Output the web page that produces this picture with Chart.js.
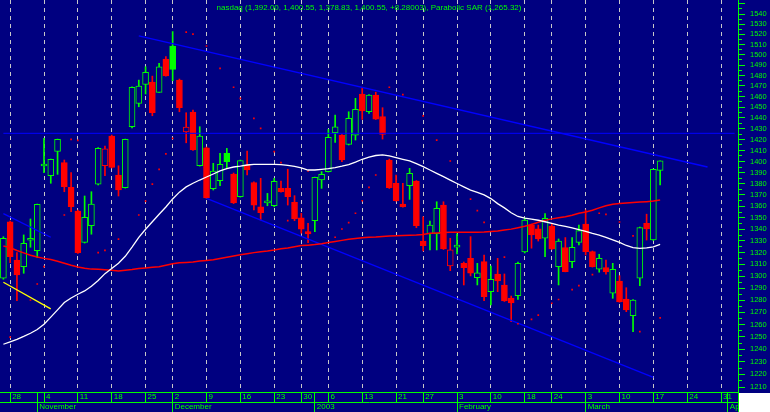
<!DOCTYPE html>
<html>
<head>
<meta charset="utf-8">
<script src="https://cdn.jsdelivr.net/npm/chart.js@4.4.1/dist/chart.umd.min.js"></script>
<style>
html,body{margin:0;padding:0;background:#000080;overflow:hidden}
#wrap{position:relative;width:770px;height:412px}
canvas{display:block}
#hdr{position:absolute;left:0;top:2px;width:738px;text-align:center;color:#00ff00;
 font-family:'Liberation Sans',Arimo,sans-serif;font-size:8px;line-height:12px;white-space:nowrap;pointer-events:none}
</style>
</head>
<body>
<div id="wrap"><canvas id="c" width="770" height="412"></canvas><div id="hdr"></div></div>
<script>
// ---------- categories (trading days) ----------
const dates = [
 '2002-10-25',
 '2002-10-28','2002-10-29','2002-10-30','2002-10-31','2002-11-01',
 '2002-11-04','2002-11-05','2002-11-06','2002-11-07','2002-11-08',
 '2002-11-11','2002-11-12','2002-11-13','2002-11-14','2002-11-15',
 '2002-11-18','2002-11-19','2002-11-20','2002-11-21','2002-11-22',
 '2002-11-25','2002-11-26','2002-11-27','2002-11-29',
 '2002-12-02','2002-12-03','2002-12-04','2002-12-05','2002-12-06',
 '2002-12-09','2002-12-10','2002-12-11','2002-12-12','2002-12-13',
 '2002-12-16','2002-12-17','2002-12-18','2002-12-19','2002-12-20',
 '2002-12-23','2002-12-24','2002-12-26','2002-12-27',
 '2002-12-30','2002-12-31','2003-01-02','2003-01-03',
 '2003-01-06','2003-01-07','2003-01-08','2003-01-09','2003-01-10',
 '2003-01-13','2003-01-14','2003-01-15','2003-01-16','2003-01-17',
 '2003-01-21','2003-01-22','2003-01-23','2003-01-24',
 '2003-01-27','2003-01-28','2003-01-29','2003-01-30','2003-01-31',
 '2003-02-03','2003-02-04','2003-02-05','2003-02-06','2003-02-07',
 '2003-02-10','2003-02-11','2003-02-12','2003-02-13','2003-02-14',
 '2003-02-18','2003-02-19','2003-02-20','2003-02-21',
 '2003-02-24','2003-02-25','2003-02-26','2003-02-27','2003-02-28',
 '2003-03-03','2003-03-04','2003-03-05','2003-03-06','2003-03-07',
 '2003-03-10','2003-03-11','2003-03-12','2003-03-13','2003-03-14',
 '2003-03-17','2003-03-18','2003-03-19','2003-03-20','2003-03-21',
 '2003-03-24','2003-03-25','2003-03-26','2003-03-27','2003-03-28',
 '2003-03-31','2003-04-01','2003-04-02'
];

// ---------- price series ----------
const openVals = [
 1298.2,1346.5,1313.6,1307.9,1330.5,1321.6,1395.9,1387.2,1409.2,1398.9,
 1376.8,1355.9,1328.7,1343.0,1379.5,1396.1,1423.2,1387.8,1376.5,1431.8,
 1453.6,1471.5,1473.7,1464.0,1495.9,1508.5,1475.6,1427.1,1445.4,1396.1,
 1412.5,1375.7,1382.7,1407.4,1388.7,1368.4,1396.8,1381.1,1359.6,1363.1,
 1360.5,1375.9,1375.9,1363.5,1350.0,1337.9,1347.4,1383.3,1390.8,1426.2,
 1424.1,1415.6,1424.1,1462.4,1445.7,1461.4,1441.1,1401.3,1380.4,1362.0,
 1378.2,1382.4,1329.8,1336.2,1336.2,1361.1,1308.7,1324.6,1310.8,1315.0,
 1298.7,1312.2,1287.0,1301.8,1292.6,1281.7,1283.6,1320.5,1343.6,1340.3,
 1332.2,1342.8,1307.9,1324.2,1312.2,1328.7,1344.5,1320.7,1305.8,1307.1,
 1285.7,1295.9,1280.9,1267.2,1298.2,1345.1,1330.7,1392.00
];
const highVals = [
 1333.5,1347.1,1319.9,1335.1,1348.9,1362.0,1421.1,1402.2,1420.4,1401.3,
 1389.9,1356.8,1369.1,1372.9,1412.6,1413.9,1424.1,1396.1,1420.4,1469.1,
 1475.6,1488.4,1479.4,1491.7,1498.1,1522.6,1476.6,1444.8,1447.3,1431.8,
 1413.1,1398.3,1407.4,1411.9,1389.6,1401.3,1409.5,1381.7,1384.8,1371.4,
 1384.8,1382.4,1393.0,1369.4,1353.9,1345.1,1386.0,1390.8,1429.3,1442.7,
 1424.5,1445.7,1458.3,1468.8,1461.9,1464.1,1449.5,1402.2,1387.8,1380.4,
 1393.8,1382.8,1350.9,1347.1,1364.0,1364.0,1332.2,1336.0,1311.9,1333.6,
 1310.8,1317.9,1308.5,1315.0,1301.8,1283.4,1311.9,1349.8,1344.5,1343.6,
 1353.7,1344.5,1331.6,1332.8,1332.8,1343.6,1356.8,1321.3,1318.5,1313.6,
 1310.8,1300.4,1290.3,1280.5,1341.9,1353.1,1393.2,1400.55
];
const lowVals = [
 1297.4,1311.3,1279.5,1302.4,1324.5,1315.6,1389.9,1380.4,1388.4,1372.9,
 1355.3,1319.2,1328.1,1335.7,1378.9,1387.2,1394.1,1369.1,1376.1,1430.8,
 1450.4,1462.4,1442.0,1463.8,1479.4,1475.0,1445.7,1417.0,1410.0,1395.8,
 1366.8,1374.4,1378.2,1393.8,1362.4,1368.1,1387.8,1356.8,1348.0,1360.5,
 1359.6,1372.4,1361.1,1347.4,1336.6,1328.4,1337.9,1375.9,1390.5,1417.4,
 1399.8,1415.0,1419.5,1438.6,1444.2,1438.5,1420.4,1375.8,1364.6,1359.3,
 1366.1,1341.3,1321.3,1322.2,1322.2,1322.6,1304.6,1318.8,1292.6,1300.2,
 1292.6,1279.5,1276.0,1287.0,1278.9,1262.3,1280.6,1319.6,1323.7,1329.8,
 1316.5,1322.6,1292.6,1303.6,1307.1,1326.5,1317.9,1307.6,1303.3,1301.6,
 1281.5,1278.3,1270.5,1254.2,1292.0,1330.7,1330.3,1378.83
];
const closeVals = [
 1332.2,1316.5,1301.0,1327.9,1331.0,1361.8,1397.3,1401.9,1420.1,1377.3,
 1359.6,1319.9,1350.4,1362.0,1411.9,1411.5,1394.7,1374.4,1420.1,1468.8,
 1470.0,1483.0,1444.8,1488.4,1479.7,1485.9,1449.5,1431.5,1410.4,1423.2,
 1367.5,1391.4,1397.4,1399.8,1363.1,1400.7,1392.3,1361.1,1354.4,1364.6,
 1382.1,1372.9,1368.4,1348.9,1340.0,1336.0,1385.7,1388.4,1421.9,1431.8,
 1401.3,1439.6,1447.9,1446.4,1461.4,1438.9,1424.7,1376.5,1364.9,1359.6,
 1389.4,1343.0,1325.9,1343.6,1358.3,1323.0,1322.2,1325.0,1307.1,1302.4,
 1302.8,1282.8,1297.3,1295.9,1279.3,1277.6,1310.8,1348.0,1335.1,1331.6,
 1349.5,1323.0,1329.8,1303.8,1324.5,1338.8,1320.7,1307.9,1315.0,1303.6,
 1305.8,1278.6,1271.9,1280.1,1341.4,1340.3,1392.9,1400.55
];

// moving averages as drawn (white = fast, red = slow)
const maFast = [
 1244.0,1246.0,1248.0,1250.3,1252.9,1255.9,1260.2,1266.0,1272.0,1278.0,
 1281.8,1284.9,1287.6,1291.6,1296.4,1302.1,1306.5,1310.9,1316.8,1324.6,
 1332.9,1340.0,1346.5,1353.0,1359.4,1366.5,1372.5,1377.2,1380.4,1383.3,
 1386.0,1388.7,1391.5,1393.6,1395.0,1395.8,1396.8,1397.3,1397.4,1397.4,
 1397.3,1397.2,1396.5,1395.5,1394.2,1392.3,1392.3,1392.9,1393.6,1394.5,
 1395.7,1397.2,1399.5,1402.0,1404.0,1405.4,1405.9,1405.0,1403.4,1401.9,
 1400.5,1398.0,1395.3,1392.3,1389.3,1386.3,1383.2,1380.2,1377.2,1374.3,
 1372.4,1370.1,1366.8,1362.4,1358.6,1354.4,1351.1,1349.7,1348.8,1347.8,
 1346.5,1345.0,1343.6,1342.4,1341.1,1339.7,1338.2,1336.4,1335.0,1333.0,
 1330.8,1328.6,1326.0,1324.2,1323.6,1324.0,1324.9,1327.0
];
const maSlow = [
 1325.6,1324.2,1321.7,1319.7,1317.7,1316.1,1315.0,1314.0,1312.6,1310.8,
 1309.1,1307.7,1306.6,1305.9,1305.7,1305.4,1305.0,1304.4,1304.9,1305.5,
 1306.5,1306.9,1307.4,1307.9,1309.2,1310.4,1311.3,1311.6,1312.0,1312.8,
 1313.3,1313.9,1314.9,1316.0,1317.1,1318.1,1319.0,1319.9,1320.6,1321.2,
 1322.1,1323.2,1323.9,1324.9,1325.9,1326.3,1326.8,1327.5,1328.5,1329.4,
 1330.4,1331.4,1332.0,1332.7,1333.0,1333.3,1333.8,1334.2,1334.3,1334.5,
 1334.8,1335.0,1335.5,1336.5,1336.8,1337.1,1337.4,1337.4,1337.4,1337.4,
 1337.4,1337.6,1338.0,1338.5,1339.3,1340.1,1341.3,1342.6,1344.1,1346.1,
 1347.7,1349.0,1349.9,1350.9,1352.1,1353.9,1355.1,1356.6,1358.6,1360.5,
 1361.9,1362.5,1363.0,1363.3,1363.7,1364.1,1364.6,1365.5
];

// Parabolic SAR dots (read where visible)
const sarVals = [
 null,1249.7,null,null,1280.1,1293.4,1308.0,null,null,1352.4,
 1420.1,1419.3,null,null,1319.9,1321.9,null,1331.5,null,null,
 1352.4,1364.6,1379.7,1392.9,1406.8,1421.1,null,1522.1,1520.1,null,
 1508.5,null,1486.8,null,1468.8,1458.3,null,1439.5,1430.3,null,
 1408.9,1399.0,1347.4,null,null,1391.4,null,null,null,1333.1,
 1340.2,1345.7,1353.9,1364.9,1376.8,1387.8,null,1468.8,null,1461.9,
 null,null,1441.8,null,1419.5,null,1400.4,null,null,1366.4,
 1356.2,1346.0,null,null,1316.0,null,1260.6,null,1264.2,1267.6,
 null,1277.4,1280.5,null,1288.7,1292.0,null,1301.3,1353.9,1353.0,
 null,1346.3,null,1334.2,1254.2,null,null,1265.32
];

// drawn lines (two end points each)
const upperTrendDates = ['2002-11-22','2003-03-27'];
const upperTrendValues = [1518.3, 1395.0];
const lowerTrendDates = ['2002-12-09','2003-03-17'];
const lowerTrendValues = [1367.0, 1217.6];
const oldTrendDates = ['2002-10-25','2002-11-05'];
const oldTrendValues = [1353.6, 1333.1];
const yellowDates = ['2002-10-25','2002-11-05'];
const yellowValues = [1294.9, 1272.8];
const levelDates = ['2002-10-25','2003-04-02'];
const levelValues = [1425.7, 1425.7];

// y-axis tick values
const yTickValues = [];
for (let v = 1210; v <= 1550; v += 5) yTickValues.push(v);

const headerText = 'nasdaq (1,392.00, 1,400.55, 1,378.83, 1,400.55, +8.28003), Parabolic SAR (1,265.32)';
const monthNames = ['January','February','March','April','May','June','July','August','September','October','November','December'];

// ---------- styling ----------
const NAVY = '#000080';
const GREEN = '#00ff00';
const RED = '#ff0000';
const FONT = "'Liberation Sans',Arimo,sans-serif";

document.getElementById('hdr').textContent = headerText;

const pts = (ds, vs) => ds.map((d, i) => ({x: d, y: vs[i]}));
const dayOf = i => new Date(dates[i] + 'T00:00:00Z');
const isWeekStart = i => i > 0 && dayOf(i).getUTCDay() <= dayOf(i - 1).getUTCDay();
const isMonthStart = i => i > 0 && dayOf(i).getUTCMonth() !== dayOf(i - 1).getUTCMonth();
const noPad = s => { s.paddingLeft = 0; s.paddingRight = 0; s.paddingTop = 0; s.paddingBottom = 0; };

const candleColor = closeVals.map((c, i) => (i === 0 || c >= closeVals[i - 1]) ? GREEN : RED);
const candleFill = closeVals.map((c, i) => c >= openVals[i] ? NAVY : candleColor[i]);

const bgPlugin = {
  id: 'bg',
  beforeDraw(chart) {
    const {ctx, width, height} = chart;
    ctx.save();
    ctx.fillStyle = NAVY;
    ctx.fillRect(0, 0, width, height);
    ctx.restore();
  },
  afterDraw(chart) {
    const {ctx, chartArea, width, height} = chart;
    ctx.save();
    ctx.fillStyle = '#ffffff';
    ctx.fillRect(chartArea.right + 1, chartArea.bottom + 1, width - chartArea.right - 1, height - chartArea.bottom - 1);
    ctx.strokeStyle = GREEN;
    ctx.lineWidth = 1;
    ctx.beginPath();
    ctx.moveTo(chartArea.right + 0.5, chartArea.bottom);
    ctx.lineTo(chartArea.right + 0.5, height);
    ctx.stroke();
    ctx.restore();
  }
};

const lineDs = (label, data, color, order, width) => ({
  type: 'line', label, data, borderColor: color, backgroundColor: color,
  borderWidth: width || 1, pointRadius: 0, pointHoverRadius: 0, pointHitRadius: 0,
  tension: 0, order, xAxisID: 'x', yAxisID: 'y'
});

new Chart(document.getElementById('c'), {
  data: {
    labels: dates,
    datasets: [
      lineDs('MA fast', maFast, '#ffffff', 1, 1.3),
      lineDs('MA slow', maSlow, RED, 1, 1.5),
      {
        type: 'line', label: 'Parabolic SAR', data: sarVals, showLine: false,
        pointRadius: 1.2, pointHoverRadius: 1.2, pointStyle: 'rect', pointBorderWidth: 0,
        pointBackgroundColor: RED, borderColor: RED, order: 2
      },
      lineDs('Upper trend', pts(upperTrendDates, upperTrendValues), '#0000ff', 3, 1.3),
      lineDs('Lower trend', pts(lowerTrendDates, lowerTrendValues), '#0000ff', 3, 1.3),
      lineDs('Old trend', pts(oldTrendDates, oldTrendValues), '#0000ff', 3, 1.3),
      lineDs('Yellow trend', pts(yellowDates, yellowValues), '#ffff00', 3, 1.3),
      lineDs('Level', pts(levelDates, levelValues), '#0000ff', 3, 1),
      {
        type: 'bar', label: 'Body',
        data: openVals.map((o, i) => [o, closeVals[i]]),
        backgroundColor: candleFill, borderColor: candleColor, borderWidth: 1,
        borderSkipped: false, barThickness: 6, minBarLength: 2, grouped: false, order: 5
      },
      {
        type: 'bar', label: 'Wick',
        data: lowVals.map((l, i) => [l, highVals[i]]),
        backgroundColor: candleColor, borderWidth: 0,
        barThickness: 1, grouped: false, order: 6
      }
    ]
  },
  options: {
    responsive: false, animation: false, devicePixelRatio: 1,
    layout: {padding: 0, autoPadding: false},
    events: [],
    plugins: {
      legend: {display: false},
      tooltip: {enabled: false},
      title: {display: false}
    },
    scales: {
      x: {
        type: 'category', position: 'bottom', offset: true, weight: 0,
        afterBuildTicks: s => { s.ticks = s.ticks.filter(t => isWeekStart(t.value) || isMonthStart(t.value)); },
        afterFit: s => { s.height = 10; noPad(s); },
        ticks: {
          autoSkip: false, maxRotation: 0, minRotation: 0, align: 'start', labelOffset: 2, padding: -10,
          color: GREEN, font: {family: FONT, size: 8, lineHeight: '10px'},
          callback: v => isWeekStart(v) ? String(dayOf(v).getUTCDate()) : ''
        },
        grid: {
          offset: false, drawOnChartArea: true, drawTicks: true, tickLength: 10, lineWidth: 1,
          color: c => (c.tick && isWeekStart(c.tick.value)) ? '#c8c8c8' : 'rgba(0,0,0,0)',
          tickColor: GREEN
        },
        border: {display: true, color: GREEN, width: 1, dash: [4, 4]}
      },
      x2: {
        type: 'category', position: 'bottom', offset: true, weight: 1,
        afterBuildTicks: s => { s.ticks = s.ticks.filter(t => isMonthStart(t.value)); },
        afterFit: s => { s.height = 10; noPad(s); },
        ticks: {
          autoSkip: false, maxRotation: 0, minRotation: 0, align: 'start', labelOffset: 2, padding: -10,
          color: GREEN, font: {family: FONT, size: 8, lineHeight: '10px'},
          callback: v => dayOf(v).getUTCMonth() === 0 ? String(dayOf(v).getUTCFullYear()) : monthNames[dayOf(v).getUTCMonth()]
        },
        grid: {offset: false, drawOnChartArea: false, drawTicks: true, tickLength: 10, color: GREEN, tickColor: GREEN},
        border: {display: true, color: GREEN, width: 1}
      },
      y: {
        type: 'logarithmic', position: 'right', min: 1206.2, max: 1554.0, bounds: 'data',
        afterBuildTicks: s => { s.ticks = yTickValues.map(v => ({value: v})); },
        afterFit: s => { s.width = 32; noPad(s); },
        ticks: {
          autoSkip: false, padding: 5, color: GREEN,
          font: {family: FONT, size: 7.5, lineHeight: '9px'},
          callback: v => (v % 10 === 0 && v <= 1540) ? String(v) : ''
        },
        grid: {
          drawOnChartArea: false, drawTicks: true, tickLength: 7, color: GREEN, tickColor: GREEN,
          tickBorderDash: c => (c.tick && c.tick.value % 10 !== 0) ? [3, 20] : []
        },
        border: {display: true, color: GREEN, width: 1}
      }
    }
  },
  plugins: [bgPlugin]
});
</script>
</body>
</html>
